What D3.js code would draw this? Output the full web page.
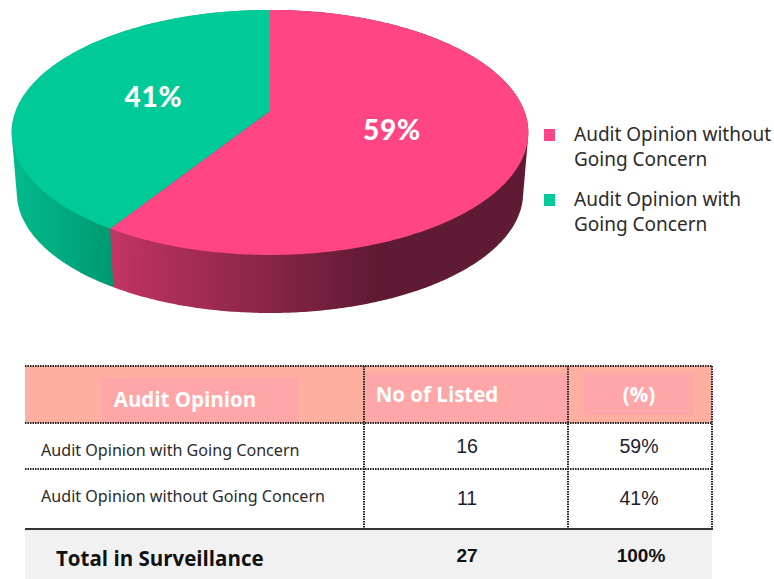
<!DOCTYPE html>
<html>
<head>
<meta charset="utf-8">
<style>html,body{margin:0;padding:0;background:#fff}svg{display:block}</style>
<script src="https://cdn.jsdelivr.net/npm/d3@7/dist/d3.min.js"></script>
</head>
<body>
<div id="chart"></div>
<script>
// DATA
const sliceNames = ["Audit Opinion without Going Concern", "Audit Opinion with Going Concern"];
const sliceShares = [59, 41];
const sliceLabels = ["59%", "41%"];
const legendLines = [["Audit Opinion without", "Going Concern"], ["Audit Opinion with", "Going Concern"]];
const tableHeaders = ["Audit Opinion", "No of Listed", "(%)"];
const rowNames = ["Audit Opinion with Going Concern", "Audit Opinion without Going Concern"];
const rowCounts = ["16", "11"];
const rowPercents = ["59%", "41%"];
const totalRow = ["Total in Surveillance", "27", "100%"];

const W = 774, H = 579;
const svg = d3.select("#chart").append("svg").attr("width", W).attr("height", H);
const defs = svg.append("defs");

function gradient(id, stops) {
  const g = defs.append("linearGradient").attr("id", id)
    .attr("gradientUnits", "userSpaceOnUse")
    .attr("x1", 108).attr("x2", W).attr("y1", 0).attr("y2", 0);
  stops.forEach(s => g.append("stop").attr("offset", (s[0] - 108) / (W - 108)).attr("stop-color", s[1]));
}
gradient("wallPink", [[108, "#c23564"], [300, "#7d2141"], [375, "#5f1b33"], [774, "#5f1b33"]]);
const gg = defs.append("linearGradient").attr("id", "wallGreen")
  .attr("gradientUnits", "userSpaceOnUse").attr("x1", 15).attr("x2", 111).attr("y1", 0).attr("y2", 0);
gg.append("stop").attr("offset", 0).attr("stop-color", "#00ba8b");
gg.append("stop").attr("offset", 1).attr("stop-color", "#009a72");

// Perspective disc: pie angle -> screen, foreshortened toward the back
const cx = 270, apexY = 111, rx = 254.3, ry = 118.75, k = 0.175;
const wallScaleX = 0.98, wallScaleY = 0.98, wallDrop = 60.5;
function project(a, level) {
  const u = Math.sin(a), v = Math.cos(a), d = 1 + k * v;
  const x = rx * u / d, y = apexY - ry * v / d;
  return level === 0 ? [cx + x, y]
                     : [cx + x * wallScaleX, 132.5 + (y - 132.5) * wallScaleY + wallDrop];
}
function arcPoints(a0, a1, level) {
  const n = Math.max(2, Math.ceil(Math.abs(a1 - a0) / 0.01));
  return d3.range(n + 1).map(i => project(a0 + (a1 - a0) * i / n, level));
}
const line = d3.line();
const pie = d3.pie().sort(null).value(d => d)(sliceShares);
const topFill = ["#ff4584", "#00ca98"];
const wallFill = ["url(#wallPink)", "url(#wallGreen)"];

// Walls: the swept hull of each slice's rim; the pink wall is drawn last so it trims the green one
svg.append("g").selectAll("path").data(pie.slice().reverse()).join("path")
  .attr("d", d => line(d3.polygonHull(arcPoints(d.startAngle, d.endAngle, 0).concat(arcPoints(d.startAngle, d.endAngle, 1)))) + "Z")
  .attr("fill", d => wallFill[d.index]);
svg.append("g").selectAll("path").data(pie).join("path")
  .attr("d", d => line([[cx, apexY]].concat(arcPoints(d.startAngle, d.endAngle, 0))) + "Z")
  .attr("fill", d => topFill[d.index]);

// Slice labels
const labelPos = [[392, 140], [153.5, 107]];
svg.append("g").selectAll("text").data(sliceLabels).join("text")
  .text(d => d).attr("x", (d, i) => labelPos[i][0]).attr("y", (d, i) => labelPos[i][1])
  .attr("text-anchor", "middle").attr("fill", "#fff")
  .attr("font-family", "Lato").attr("font-weight", 900).attr("font-size", 28).attr("letter-spacing", 0.8);

// Legend
const legend = svg.append("g").selectAll("g").data(legendLines).join("g");
const legendY = [141, 206];
legend.append("rect").attr("x", 544).attr("y", (d, i) => legendY[i] - 12)
  .attr("width", 11).attr("height", 12).attr("fill", (d, i) => topFill[i]);
legend.each(function (lines, i) {
  d3.select(this).selectAll("text").data(lines).join("text").text(d => d)
    .attr("x", 574).attr("y", (d, j) => legendY[i] + j * 25)
    .attr("font-family", "Noto Sans").attr("font-size", 19).attr("fill", "#2b2b2b");
});

// Table
const colX = [25, 364, 568, 712], rowY = [366, 423, 469, 529], tableBottom = 579;
svg.append("rect").attr("x", colX[0]).attr("y", rowY[0]).attr("width", colX[3] - colX[0]).attr("height", rowY[1] - rowY[0]).attr("fill", "#feaf9f");
const patches = [[101, 378, 197, 45], [365, 373, 202, 49], [583, 373, 111, 42]];
svg.append("g").selectAll("rect").data(patches).join("rect")
  .attr("x", d => d[0]).attr("y", d => d[1]).attr("width", d => d[2]).attr("height", d => d[3]).attr("fill", "#ffa6a8");
svg.append("rect").attr("x", colX[0]).attr("y", rowY[3]).attr("width", colX[3] - colX[0]).attr("height", tableBottom - rowY[3]).attr("fill", "#f1f1f1");

const dotted = svg.append("g").attr("stroke", "#222").attr("stroke-width", 2).attr("stroke-dasharray", "1.5 1");
rowY.slice(0, 3).forEach(y => dotted.append("line").attr("x1", colX[0]).attr("x2", colX[3]).attr("y1", y).attr("y2", y));
colX.slice(1).forEach(x => dotted.append("line").attr("x1", x).attr("x2", x).attr("y1", rowY[0]).attr("y2", rowY[3]));
svg.append("line").attr("x1", colX[0]).attr("x2", colX[3] + 1).attr("y1", rowY[3]).attr("y2", rowY[3]).attr("stroke", "#333").attr("stroke-width", 2);

function txt(s, x, y, o) {
  svg.append("text").text(s).attr("x", x).attr("y", y)
    .attr("text-anchor", o.anchor || "start").attr("font-family", o.font)
    .attr("font-weight", o.weight || 400).attr("font-size", o.size).attr("fill", o.fill);
}
const headX = [185, 437, 639], headY = [407, 402, 402];
tableHeaders.forEach((h, i) => txt(h, headX[i], headY[i], {anchor: "middle", font: "Open Sans", weight: 700, size: 20.5, fill: "#fff"}));
const rowBase = [456, 502], numBase = [453, 505];
rowNames.forEach((n, i) => {
  txt(n, 41, rowBase[i], {font: "Noto Sans", size: 16.1, fill: "#2b2b2b"});
  txt(rowCounts[i], 467, numBase[i], {anchor: "middle", font: "Liberation Sans", size: 19.5, fill: "#1c1c30"});
  txt(rowPercents[i], 639, numBase[i], {anchor: "middle", font: "Liberation Sans", size: 19.5, fill: "#1c1c30"});
});
txt(totalRow[0], 56, 566, {font: "Open Sans", weight: 700, size: 20.5, fill: "#111"});
txt(totalRow[1], 467, 562, {anchor: "middle", font: "Liberation Sans", weight: 700, size: 19, fill: "#111"});
txt(totalRow[2], 641, 562, {anchor: "middle", font: "Liberation Sans", weight: 700, size: 19, fill: "#111"});
</script>
</body>
</html>
